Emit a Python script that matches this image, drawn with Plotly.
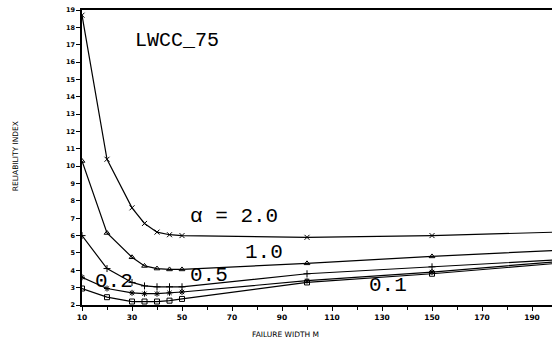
import plotly.graph_objects as go

# Failure width (m)
width = [10, 20, 30, 35, 40, 45, 50, 100, 150, 200]

# Reliability index per alpha
alpha_labels = ["2.0", "1.0", "0.5", "0.2", "0.1"]
beta_a20 = [18.7, 10.4, 7.6, 6.7, 6.2, 6.05, 6.0, 5.9, 6.0, 6.2]
beta_a10 = [10.3, 6.15, 4.75, 4.25, 4.1, 4.05, 4.05, 4.4, 4.8, 5.15]
beta_a05 = [6.0, 4.1, 3.3, 3.1, 3.05, 3.05, 3.05, 3.8, 4.2, 4.6]
beta_a02 = [3.6, 2.95, 2.7, 2.65, 2.65, 2.7, 2.75, 3.4, 3.9, 4.5]
beta_a01 = [2.95, 2.45, 2.2, 2.2, 2.2, 2.25, 2.35, 3.3, 3.8, 4.4]

series = [beta_a20, beta_a10, beta_a05, beta_a02, beta_a01]
symbols = ["x-thin-open", "triangle-up-open", "cross-thin-open", "asterisk-open", "square-open"]

x_ticks = [10, 30, 50, 70, 90, 110, 130, 150, 170, 190]
y_ticks = list(range(2, 20))

# curve labels: (text, x, y)
curve_text = ["\u03b1 = 2.0", "1.0", "0.5", "0.2", "0.1"]
curve_x = [52.5, 74.5, 52.5, 14.5, 124.0]
curve_y = [7.1, 5.0, 3.7, 3.35, 3.15]

fig = go.Figure()
for vals, sym, lab in zip(series, symbols, alpha_labels):
    fig.add_trace(go.Scatter(
        x=width, y=vals, mode="lines+markers", name=lab,
        line=dict(color="black", width=1.2),
        marker=dict(symbol=sym, size=5, color="black", line=dict(width=1, color="black")),
        showlegend=False,
    ))

mono = "Liberation Mono"
for t, xv, yv in zip(curve_text, curve_x, curve_y):
    fig.add_annotation(x=xv, y=yv, text=t, showarrow=False, xanchor="left", yanchor="middle",
                       font=dict(family=mono, size=21, color="black"))

fig.add_annotation(x=30.5, y=17.27, text="LWCC_75", showarrow=False, xanchor="left", yanchor="middle",
                   font=dict(family=mono, size=20, color="black"))

fig.add_annotation(xref="paper", yref="paper", x=-0.142, y=0.505, text="RELIABILITY INDEX",
                   textangle=-90, showarrow=False, xanchor="center", yanchor="middle",
                   font=dict(family="DejaVu Sans", size=7.5, color="black"))
fig.add_annotation(xref="paper", yref="paper", x=(285 - 82) / 470, y=-0.10, text="FAILURE WIDTH M",
                   showarrow=False, xanchor="center", yanchor="middle",
                   font=dict(family="DejaVu Sans", size=7.5, color="black"))

fig.update_xaxes(range=[10, 198], tickvals=x_ticks, ticktext=[str(v) for v in x_ticks],
                 showline=True, linecolor="black", linewidth=1.5, mirror=True,
                 ticks="outside", ticklen=4, tickcolor="black", tickwidth=1,
                 minor=dict(dtick=10, tick0=0, ticks="outside", ticklen=3, tickcolor="black"),
                 showgrid=False, zeroline=False,
                 tickfont=dict(family="DejaVu Sans", size=7.5, color="black", weight="bold"))
fig.update_yaxes(range=[2, 19], tickvals=y_ticks, ticktext=[str(v) for v in y_ticks],
                 showline=True, linecolor="black", linewidth=1.5,
                 ticks="outside", ticklen=4, tickcolor="black", tickwidth=1,
                 showgrid=False, zeroline=False,
                 tickfont=dict(family="DejaVu Sans", size=6.5, color="black", weight="bold"))

fig.update_layout(width=552, height=342, margin=dict(l=82, r=0, t=10, b=37),
                  paper_bgcolor="white", plot_bgcolor="white")

fig.write_html("out.html")
